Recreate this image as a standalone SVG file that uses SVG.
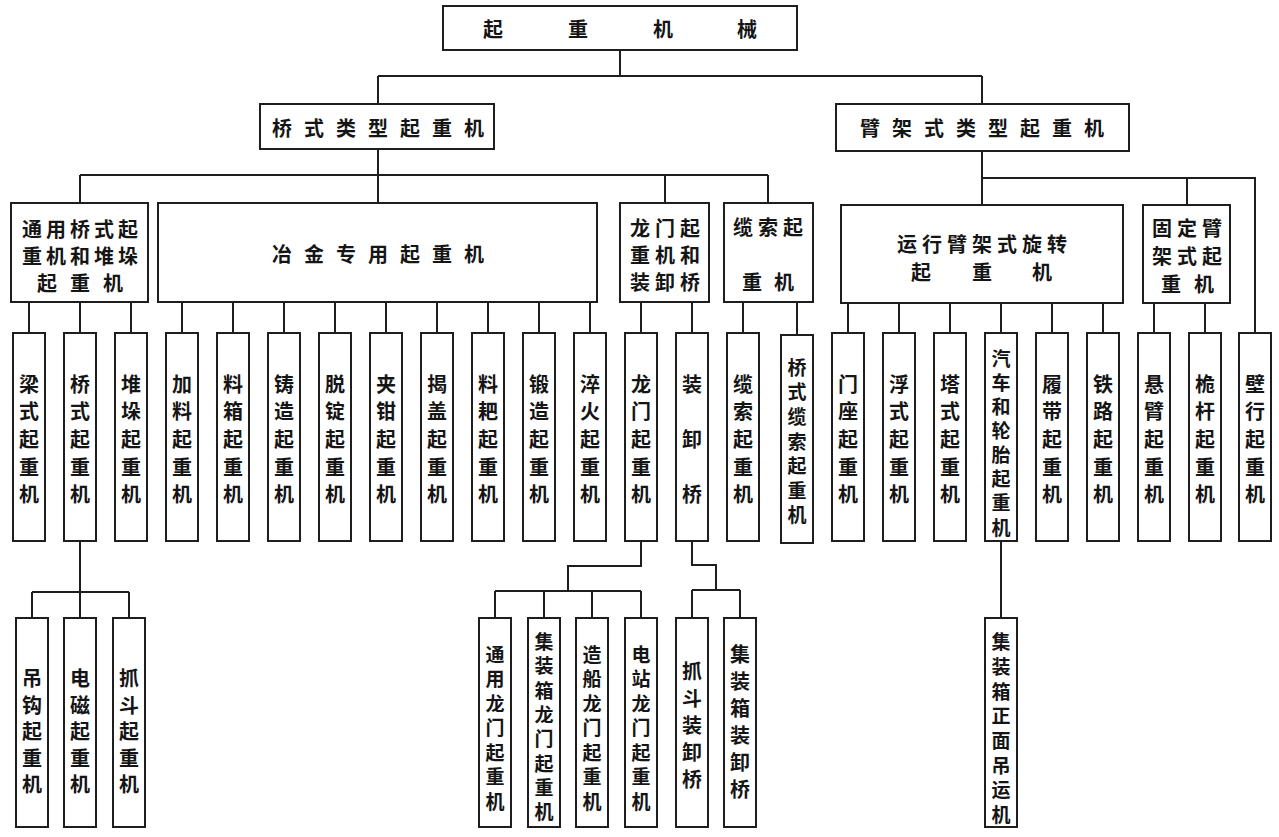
<svg xmlns="http://www.w3.org/2000/svg" width="1279" height="837" viewBox="0 0 1279 837">
<style>
.b{fill:#fff;stroke:#1e1e1e;stroke-width:2}
.c path{fill:none;stroke:#1e1e1e;stroke-width:2}
text{font-family:"Noto Sans CJK SC","Noto Sans CJK JP",sans-serif;font-weight:700;fill:#151515;text-anchor:middle;dominant-baseline:central;font-size:20px}
.s{font-size:19px}
</style>
<rect width="1279" height="837" fill="#fff"/>
<g class="c" id="connectors">
<path d="M620 50V76M378 76H982M378 76V104M982 76V104"/>
<path d="M378 149V203M80 175H768M80 175V203M665 175V203M768 175V203"/>
<path d="M982 151V205M982 178H1255V333M1187 178V205"/>
<path d="M29 302V333M80 302V333M131 302V333M182 302V333M233 302V333M284 302V333M335 302V333M386 302V333M437 302V333M488 302V333M539 302V333M590 302V333M641 302V333M692 302V333M743 302V333M797 302V335"/>
<path d="M848 303V333M899 303V333M950 303V333M1001 303V333M1052 303V333M1103 303V333M1154 303V333M1205 303V333"/>
<path d="M80 541V618M32 592H129M32 592V618M129 592V618"/>
<path d="M641 541V566H568V591M495 591H641M495 591V618M544 591V618M592 591V618M641 591V618"/>
<path d="M692 541V565H716V590M692 590H740M692 590V618M740 590V618"/>
<path d="M1001 541V618"/>
</g>
<g id="n_root"><rect class="b" x="443" y="6" width="354" height="44"/><text x="493 578 663 747" y="28">起重机械</text></g>
<g id="n_qiaoshi"><rect class="b" x="260" y="104" width="234" height="45"/><text x="282 314 346 378 410 442 474" y="127">桥式类型起重机</text></g>
<g id="n_bijia"><rect class="b" x="836" y="104" width="293" height="47"/><text x="870 902 934 966 998 1030 1062 1094" y="127">臂架式类型起重机</text></g>
<g id="n_tongyong"><rect class="b" x="11" y="203" width="137" height="99"/><text x="32 56 80 104 128" y="228">通用桥式起</text><text x="32 56 80 104 128" y="255">重机和堆垛</text><text x="47 80 113" y="282">起重机</text></g>
<g id="n_yejin"><rect class="b" x="158" y="203" width="439" height="99"/><text x="282 314 346 378 410 442 474" y="253">冶金专用起重机</text></g>
<g id="n_longmen"><rect class="b" x="620" y="203" width="89" height="99"/><text x="640 665 690" y="227">龙门起</text><text x="640 665 690" y="254">重机和</text><text x="640 665 690" y="281">装卸桥</text></g>
<g id="n_lansuo"><rect class="b" x="724" y="203" width="89" height="99"/><text x="743 768 793" y="226">缆索起</text><text x="752 784" y="281">重机</text></g>
<g id="n_yunxing"><rect class="b" x="841" y="205" width="282" height="98"/><text x="907 932 957 982 1007 1032 1057" y="243">运行臂架式旋转</text><text x="921 982 1042" y="271">起重机</text></g>
<g id="n_guding"><rect class="b" x="1143" y="205" width="87" height="98"/><text x="1162 1187 1212" y="227">固定臂</text><text x="1162 1187 1212" y="255">架式起</text><text x="1171 1204" y="283">重机</text></g>
<g id="n_l1"><rect class="b" x="13" y="333" width="32" height="208"/><text x="29 29 29 29 29" y="383 410 438 466 493">梁式起重机</text></g>
<g id="n_l2"><rect class="b" x="64" y="333" width="32" height="208"/><text x="80 80 80 80 80" y="383 410 438 466 493">桥式起重机</text></g>
<g id="n_l3"><rect class="b" x="115" y="333" width="32" height="208"/><text x="131 131 131 131 131" y="383 410 438 466 493">堆垛起重机</text></g>
<g id="n_l4"><rect class="b" x="166" y="333" width="32" height="208"/><text x="182 182 182 182 182" y="383 410 438 466 493">加料起重机</text></g>
<g id="n_l5"><rect class="b" x="217" y="333" width="32" height="208"/><text x="233 233 233 233 233" y="383 410 438 466 493">料箱起重机</text></g>
<g id="n_l6"><rect class="b" x="268" y="333" width="32" height="208"/><text x="284 284 284 284 284" y="383 410 438 466 493">铸造起重机</text></g>
<g id="n_l7"><rect class="b" x="319" y="333" width="32" height="208"/><text x="335 335 335 335 335" y="383 410 438 466 493">脱锭起重机</text></g>
<g id="n_l8"><rect class="b" x="370" y="333" width="32" height="208"/><text x="386 386 386 386 386" y="383 410 438 466 493">夹钳起重机</text></g>
<g id="n_l9"><rect class="b" x="421" y="333" width="32" height="208"/><text x="437 437 437 437 437" y="383 410 438 466 493">揭盖起重机</text></g>
<g id="n_l10"><rect class="b" x="472" y="333" width="32" height="208"/><text x="488 488 488 488 488" y="383 410 438 466 493">料耙起重机</text></g>
<g id="n_l11"><rect class="b" x="523" y="333" width="32" height="208"/><text x="539 539 539 539 539" y="383 410 438 466 493">锻造起重机</text></g>
<g id="n_l12"><rect class="b" x="574" y="333" width="32" height="208"/><text x="590 590 590 590 590" y="383 410 438 466 493">淬火起重机</text></g>
<g id="n_l13"><rect class="b" x="625" y="333" width="32" height="208"/><text x="641 641 641 641 641" y="383 410 438 466 493">龙门起重机</text></g>
<g id="n_l14"><rect class="b" x="676" y="333" width="32" height="208"/><text x="692 692 692" y="383 438 493">装卸桥</text></g>
<g id="n_l15"><rect class="b" x="727" y="333" width="32" height="208"/><text x="743 743 743 743 743" y="383 410 438 466 493">缆索起重机</text></g>
<g id="n_l16"><rect class="b" x="781" y="335" width="32" height="208"/><text class="s" x="797 797 797 797 797 797 797" y="366 390 415 440 464 489 513">桥式缆索起重机</text></g>
<g id="n_r1"><rect class="b" x="832" y="333" width="32" height="208"/><text x="848 848 848 848 848" y="383 410 438 466 493">门座起重机</text></g>
<g id="n_r2"><rect class="b" x="883" y="333" width="32" height="208"/><text x="899 899 899 899 899" y="383 410 438 466 493">浮式起重机</text></g>
<g id="n_r3"><rect class="b" x="934" y="333" width="32" height="208"/><text x="950 950 950 950 950" y="383 410 438 466 493">塔式起重机</text></g>
<g id="n_r4"><rect class="b" x="985" y="333" width="32" height="208"/><text class="s" x="1001 1001 1001 1001 1001 1001 1001 1001" y="357 381 405 429 453 477 501 526">汽车和轮胎起重机</text></g>
<g id="n_r5"><rect class="b" x="1036" y="333" width="32" height="208"/><text x="1052 1052 1052 1052 1052" y="383 410 438 466 493">履带起重机</text></g>
<g id="n_r6"><rect class="b" x="1087" y="333" width="32" height="208"/><text x="1103 1103 1103 1103 1103" y="383 410 438 466 493">铁路起重机</text></g>
<g id="n_r7"><rect class="b" x="1138" y="333" width="32" height="208"/><text x="1154 1154 1154 1154 1154" y="383 410 438 466 493">悬臂起重机</text></g>
<g id="n_r8"><rect class="b" x="1189" y="333" width="32" height="208"/><text x="1205 1205 1205 1205 1205" y="383 410 438 466 493">桅杆起重机</text></g>
<g id="n_r9"><rect class="b" x="1239" y="333" width="32" height="208"/><text x="1255 1255 1255 1255 1255" y="383 410 438 466 493">壁行起重机</text></g>
<g id="n_d1"><rect class="b" x="16" y="618" width="32" height="209"/><text x="32 32 32 32 32" y="677 704 730 757 783">吊钩起重机</text></g>
<g id="n_d2"><rect class="b" x="64" y="618" width="32" height="209"/><text x="80 80 80 80 80" y="677 704 730 757 783">电磁起重机</text></g>
<g id="n_d3"><rect class="b" x="113" y="618" width="32" height="209"/><text x="129 129 129 129 129" y="677 704 730 757 783">抓斗起重机</text></g>
<g id="n_g1"><rect class="b" x="479" y="618" width="32" height="209"/><text class="s" x="495 495 495 495 495 495 495" y="653 677 702 726 751 775 800">通用龙门起重机</text></g>
<g id="n_g2"><rect class="b" x="528" y="618" width="32" height="209"/><text class="s" x="544 544 544 544 544 544 544 544" y="640 664 689 713 737 762 786 810">集装箱龙门起重机</text></g>
<g id="n_g3"><rect class="b" x="576" y="618" width="32" height="209"/><text class="s" x="592 592 592 592 592 592 592" y="653 677 702 726 751 775 800">造船龙门起重机</text></g>
<g id="n_g4"><rect class="b" x="625" y="618" width="32" height="209"/><text class="s" x="641 641 641 641 641 641 641" y="653 677 702 726 751 775 800">电站龙门起重机</text></g>
<g id="n_g5"><rect class="b" x="676" y="618" width="32" height="209"/><text x="692 692 692 692 692" y="670 697 724 751 778">抓斗装卸桥</text></g>
<g id="n_g6"><rect class="b" x="724" y="618" width="32" height="209"/><text x="740 740 740 740 740 740" y="653 680 707 734 761 788">集装箱装卸桥</text></g>
<g id="n_q1"><rect class="b" x="985" y="618" width="32" height="209"/><text class="s" x="1001 1001 1001 1001 1001 1001 1001 1001" y="640 665 690 714 739 764 788 813">集装箱正面吊运机</text></g>
</svg>
